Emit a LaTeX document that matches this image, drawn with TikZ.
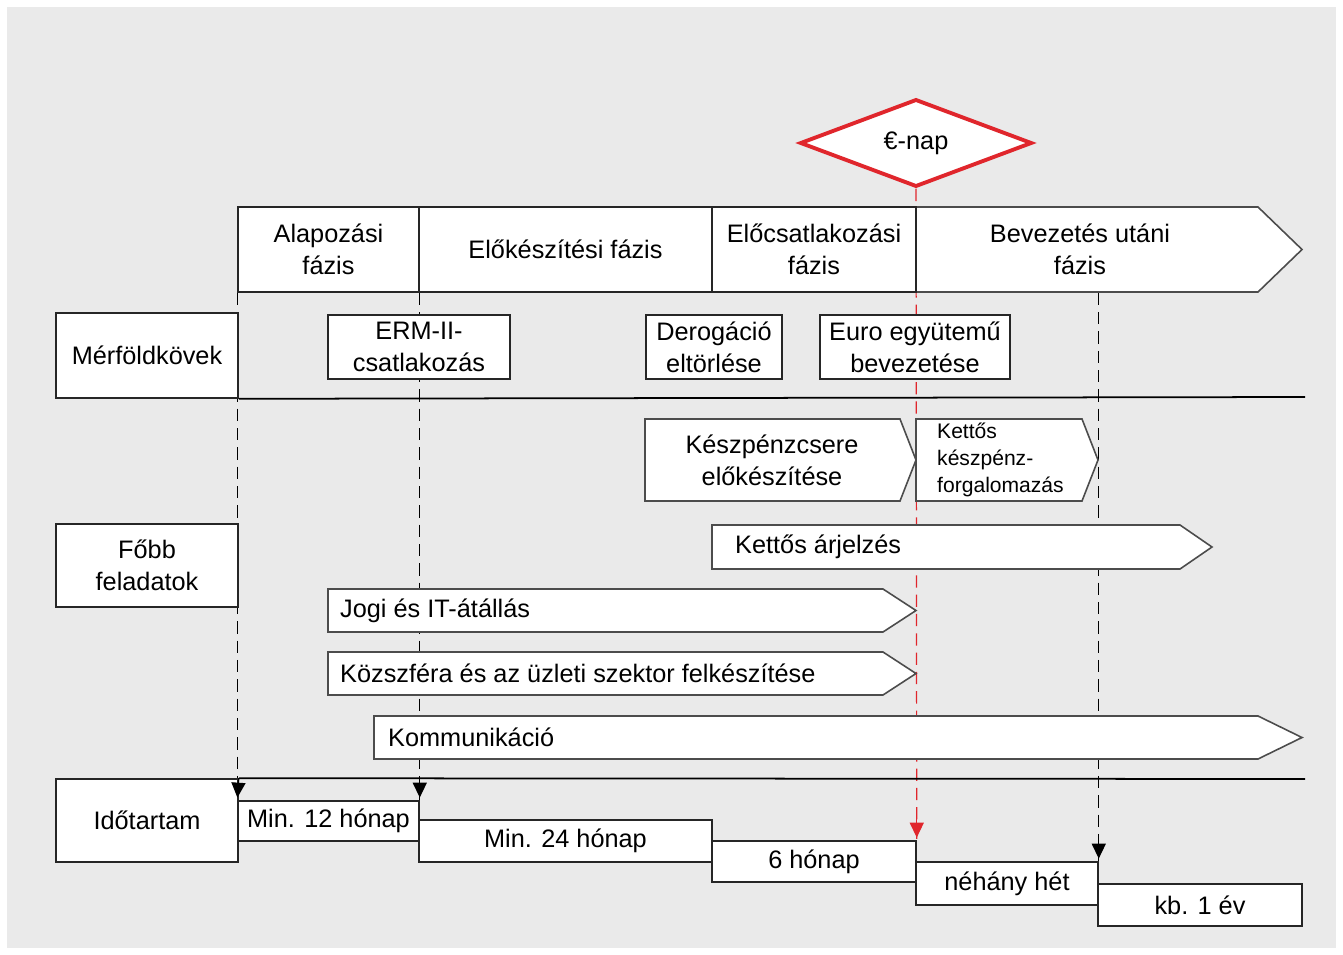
\documentclass[tikz,border=0pt]{standalone}
\usepackage{fontspec}
\setmainfont{Liberation Sans}
\usetikzlibrary{shapes.geometric,arrows.meta,backgrounds}
\definecolor{bggray}{HTML}{EAEAEA}
\definecolor{eured}{HTML}{E0262C}
\begin{document}
\begin{tikzpicture}[
x=0.02cm,y=-0.02cm,
font=\fontsize{14.4}{18}\selectfont,
box/.style={%
draw=black!85,
line width=0.9pt,
fill=white,
inner sep=0pt,
align=center
},
bar/.style={draw=black!70, line width=0.9pt, fill=white},
guide/.style={dash pattern=on 7pt off 4pt, line width=0.7pt},
tip/.style={line width=0.7pt, -{Triangle[length=8.5pt,width=8pt]}, shorten >=1.5pt},
rule/.style={line width=1pt}
]
\useasboundingbox (0,0) rectangle (1343,954);
%% Euro day
\node[diamond,draw=eured,line width=2.2pt,fill=white,inner sep=0pt,
  minimum width=4.64cm,minimum height=1.68cm](enap)at(916,143){€-nap};
%% Phases
\draw[bar](238,207)--(1258,207)--(1302,249.5)--(1258,292)--(238,292)--cycle;
\node[box,minimum width=3.62cm,minimum height=1.70cm]at(328.5,249.5)(ph1){Alapozási\\fázis};
\node[box,minimum width=5.86cm,minimum height=1.70cm]at(565.5,249.5)(ph2){Előkészítési fázis};
\node[box,minimum width=4.08cm,minimum height=1.70cm]at(814,249.5)(ph3){Előcsatlakozási\\fázis};
\node[align=center]at(1080,249.5)(ph4){Bevezetés utáni\\fázis};
%% Milestones
\node[box,minimum width=3.64cm,minimum height=1.70cm]at(147,355.5)(merf){Mérföldkövek};
\node[box,minimum width=3.64cm,minimum height=1.28cm]at(419,347)(erm){ERM-II-\\csatlakozás};
\node[box,minimum width=2.72cm,minimum height=1.28cm]at(714,347)(derog){Derogáció\\eltörlése};
\node[box,minimum width=3.80cm,minimum height=1.28cm]at(915,347)(euro){Euro együtemű\\bevezetése};
\draw[rule](merf.south east)--(1305,397);
%% Main tasks
\node[box,minimum width=3.64cm,minimum height=1.66cm]at(147,565.5)(fobb){Főbb\\feladatok};
\draw[bar](645,419)--(900,419)--(916,460)--(900,501)--(645,501)--cycle;
\node[align=center]at(772,460)(kcs){Készpénzcsere\\előkészítése};
\draw[bar](916,419)--(1082,419)--(1098,460)--(1082,501)--(916,501)--cycle;
\node[align=left,anchor=west,font=\fontsize{12}{15.3}\selectfont]at(931,460)(kkf){Kettős\\készpénz-\\forgalomazás};
\draw[bar](712,525)--(1180,525)--(1212,547)--(1180,569)--(712,569)--cycle;
\node[anchor=west]at(729,547)(arj){Kettős árjelzés};
\draw[bar](328,589)--(883,589)--(916,610.5)--(883,632)--(328,632)--cycle;
\node[anchor=west]at(334,610.5)(jogi){Jogi és IT-átállás};
\draw[bar](328,652)--(883,652)--(916,673.5)--(883,695)--(328,695)--cycle;
\node[anchor=west]at(334,673.5)(kozsz){Közszféra és az üzleti szektor felkészítése};
\draw[bar](374,716)--(1258,716)--(1302,737.5)--(1258,759)--(374,759)--cycle;
\node[anchor=west]at(382,737.5)(komm){Kommunikáció};
%% Durations
\node[box,minimum width=3.64cm,minimum height=1.66cm]at(147,820.5)(ido){Időtartam};
\draw[rule](ido.north east)--(1305,779);
\node[box,minimum width=3.62cm,minimum height=0.80cm]at(328.5,821)(d1){Min. 12 hónap};
\node[box,minimum width=5.86cm,minimum height=0.84cm]at(565.5,841)(d2){Min. 24 hónap};
\node[box,minimum width=4.08cm,minimum height=0.82cm]at(814,861.5)(d3){6 hónap};
\node[box,minimum width=3.64cm,minimum height=0.86cm]at(1007,883.5)(d4){néhány hét};
\node[box,minimum width=4.08cm,minimum height=0.84cm]at(1200,905)(d5){kb. 1 év};
%% arrow tips on top
\draw[tip](ido.north east)--(d1.north west);
\draw[tip](d1.north east|-ido.north)--(d1.north east);
\draw[tip,eured]([yshift=12pt]d3.north east)--(d3.north east);
\draw[tip]([yshift=12pt]d4.north east)--(d4.north east);
%% Guides behind everything
\begin{scope}[on background layer]
\fill[white](0,0)rectangle(1343,954);
\fill[bggray](7,7)rectangle(1336,948);
\draw[guide](ph1.south west)--(d1.north west);
\draw[guide](ph1.south east)--(d1.north east);
\draw[guide,eured](enap.south)--(d3.north east);
\draw[guide](d4.north east|-ph3.south)--(d4.north east);
\end{scope}
\end{tikzpicture}
\end{document}
